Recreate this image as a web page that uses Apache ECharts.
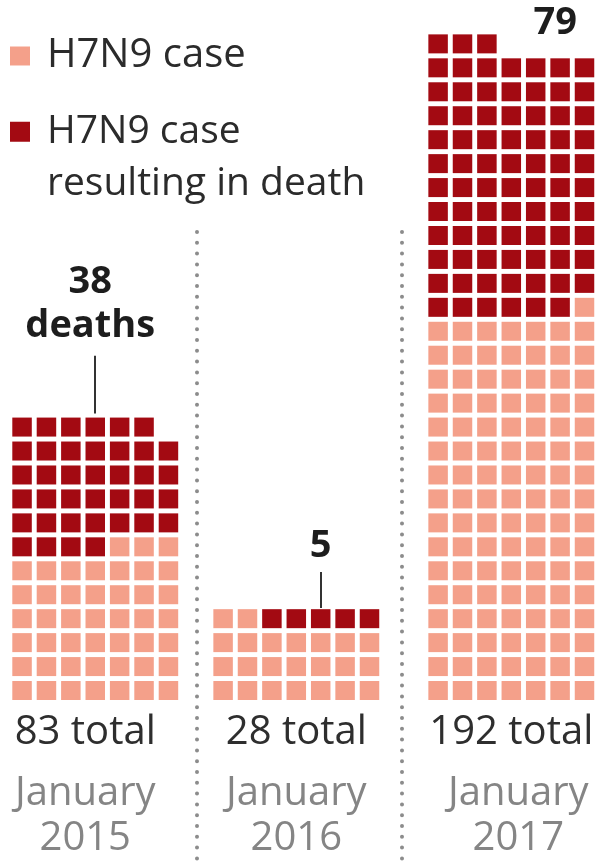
<!DOCTYPE html>
<html><head><meta charset="utf-8">
<script src="https://cdn.jsdelivr.net/npm/echarts/dist/echarts.min.js"></script>
<style>html,body{margin:0;padding:0;background:#fff}#c{width:598px;height:861px}</style>
</head><body><div id="c"></div>
<script>
// ---- data ----
const years = ['2015', '2016', '2017'];
const totals = [83, 28, 192];
const deaths = [38, 5, 79];
const caseName = 'H7N9 case';
const deathName = 'H7N9 case resulting in death';

// ---- layout / style ----
const COLS = 7;
const PX = 24.4, PY = 23.95;
const gridLefts = [9.85, 210.9, 425.9];
const BOTTOM_Y = 702.5, MAX_ROWS = 28;
const deathFill = ['left', 'right', 'left'];
const LIGHT = '#f4a08a', DARK = '#a30a12';
const FONT = '"Open Sans", Lato, sans-serif';

function waffle(total, nDeaths, dir) {
  const rows = Math.ceil(total / COLS);
  const topCount = total - COLS * (rows - 1);
  const light = [], dark = [];
  let k = 0;
  for (let r = rows - 1; r >= 0; r--) {
    const n = r === rows - 1 ? topCount : COLS;
    for (let j = 0; j < n; j++) {
      const c = dir === 'right' ? n - 1 - j : j;
      (k < nDeaths ? dark : light).push([c + 0.5, r + 0.5]);
      k++;
    }
  }
  return { rows, light, dark };
}

const cols = years.map((y, i) => waffle(totals[i], deaths[i], deathFill[i]));

const chart = echarts.init(document.getElementById('c'), null, { renderer: 'canvas' });

const series = [];
cols.forEach((w, i) => {
  const base = {
    type: 'scatter', xAxisIndex: i, yAxisIndex: i, symbol: 'rect',
    symbolSize: [19.5, 19], silent: true, animation: false
  };
  series.push(Object.assign({}, base, { name: caseName, data: w.light, itemStyle: { color: LIGHT, opacity: 1 } }));
  const d = Object.assign({}, base, { name: deathName, data: w.dark, itemStyle: { color: DARK, opacity: 1 } });
  const annoLabel = {
    show: true, color: '#1d1d1d', fontFamily: FONT, fontWeight: 'bold', fontSize: 38, lineHeight: 44
  };
  if (i === 0) {
    d.markLine = {
      silent: true, animation: false, symbol: ['none', 'none'],
      lineStyle: { color: '#333', width: 2, type: 'solid' },
      label: Object.assign({}, annoLabel, { position: 'end', distance: 8, offset: [-5, 0], formatter: deaths[i] + '\ndeaths' }),
      data: [[{ coord: [3.5, w.rows + 0.07] }, { coord: [3.5, w.rows + 2.48] }]]
    };
  } else if (i === 1) {
    d.markLine = {
      silent: true, animation: false, symbol: ['none', 'none'],
      lineStyle: { color: '#333', width: 2, type: 'solid' },
      label: Object.assign({}, annoLabel, { position: 'end', distance: 4, formatter: String(deaths[i]) }),
      data: [[{ coord: [4.5, w.rows - 0.05] }, { coord: [4.5, w.rows + 1.45] }]]
    };
  } else {
    d.markPoint = {
      silent: true, animation: false, symbol: 'rect', symbolSize: 0,
      label: Object.assign({}, annoLabel, { position: 'inside', offset: [0, -11], formatter: String(deaths[i]) }),
      data: [{ coord: [5.3, w.rows - 0.1] }]
    };
  }
  series.push(d);
});

const option = {
  backgroundColor: '#fff',
  animation: false,
  grid: years.map((y, i) => ({
    left: gridLefts[i], width: COLS * PX, top: BOTTOM_Y - MAX_ROWS * PY, height: MAX_ROWS * PY,
    outerBoundsMode: 'none', containLabel: false
  })),
  xAxis: years.map((y, i) => ({
    gridIndex: i, type: 'value', min: 0, max: COLS,
    axisLine: { show: false }, axisTick: { show: false }, axisLabel: { show: false }, splitLine: { show: false },
    name: '{a|' + totals[i] + ' total}\n{b|January}\n{b|' + y + '}',
    nameLocation: 'middle', nameGap: -8,
    nameTextStyle: {
      padding: i === 0 ? [0, 20, 0, 0] : 0,
      rich: {
        a: { fontFamily: FONT, fontWeight: 400, fontSize: 40, lineHeight: 77, color: '#2e2e2e' },
        b: { fontFamily: FONT, fontWeight: 400, fontSize: 40, lineHeight: 45, color: '#858585',
             padding: i === 2 ? [0, 0, 0, 14] : 0 }
      }
    }
  })),
  yAxis: years.map((y, i) => ({
    gridIndex: i, type: 'value', min: 0, max: MAX_ROWS, show: false
  })),
  legend: [
    {
      data: [caseName], left: 10, top: 34, padding: 0, orient: 'vertical', selectedMode: false,
      icon: 'rect', itemWidth: 20, itemHeight: 19,
      textStyle: { fontFamily: FONT, fontWeight: 400, fontSize: 40, lineHeight: 44, color: '#2b2b2b', padding: [0, 0, 0, 12] }
    },
    {
      data: [deathName], left: 10, top: 105.7, padding: 0, orient: 'vertical', selectedMode: false,
      icon: 'path://M0,0h20v20h-20z M0,71.95h0.05v0.05h-0.05z', itemWidth: 20, itemHeight: 72,
      formatter: () => 'H7N9 case\nresulting in death',
      textStyle: { fontFamily: FONT, fontWeight: 400, fontSize: 39, lineHeight: 52, color: '#2b2b2b', padding: [0, 0, 0, 12] }
    }
  ],
  graphic: [197, 402].map(x => ({
    type: 'line', silent: true,
    shape: { x1: x, y1: 232, x2: x, y2: 861 },
    style: { stroke: '#8c8c8c', lineWidth: 4, lineDash: [0, 10.8], lineCap: 'round' }
  })),
  series
};
chart.setOption(option);
</script>
</body></html>
